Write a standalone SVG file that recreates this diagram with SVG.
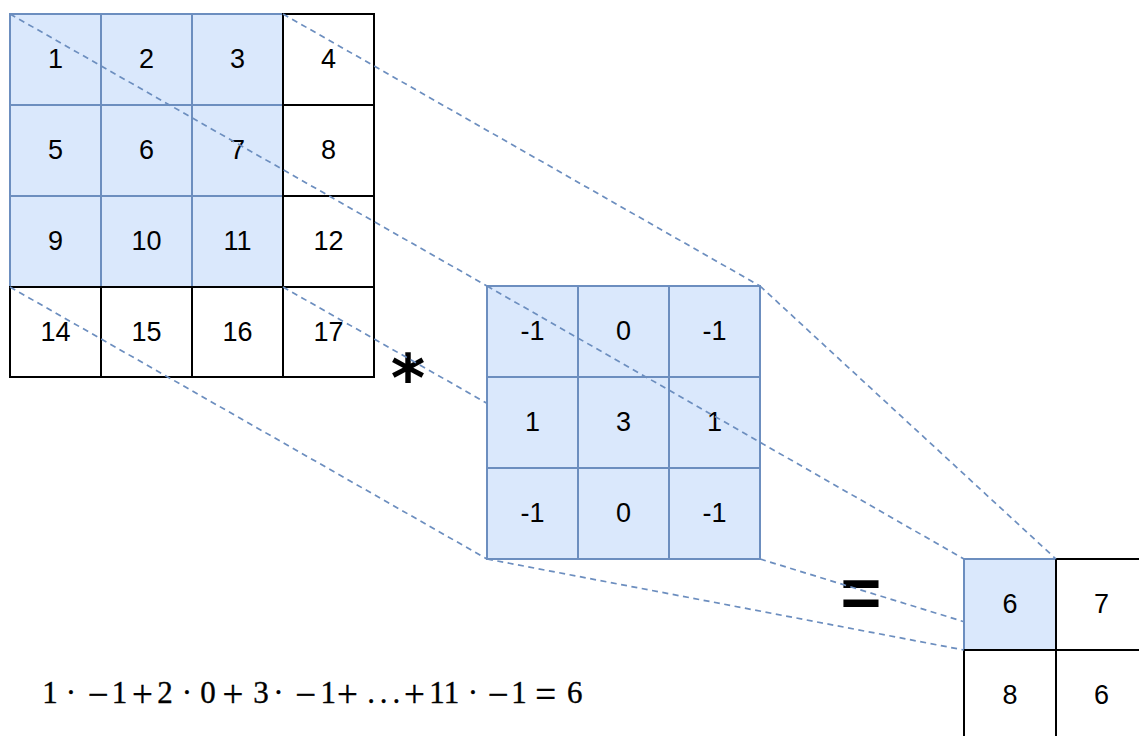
<svg xmlns="http://www.w3.org/2000/svg" width="1139" height="736" viewBox="0 0 1139 736">
<style>
.b{fill:#dae8fc;stroke:#6c8ebf;stroke-width:2}
.w{fill:#ffffff;stroke:#000000;stroke-width:2}
.t{font-family:"Liberation Sans",Arial,sans-serif;font-size:27px;fill:#000;text-anchor:middle}
.d{stroke:#6c8ebf;stroke-width:1.7;stroke-dasharray:6 4.5;fill:none}
.f{font-family:"Liberation Serif","Times New Roman",serif;font-size:31px;fill:#000;text-anchor:middle;stroke:#000;stroke-width:0.35}
.op{font-size:37px}
</style>
<rect width="1139" height="736" fill="#ffffff"/>
<g id="input">
<rect class="b" x="10" y="14" width="91" height="91"/><rect class="b" x="101" y="14" width="91" height="91"/><rect class="b" x="192" y="14" width="91" height="91"/>
<rect class="b" x="10" y="105" width="91" height="91"/><rect class="b" x="101" y="105" width="91" height="91"/><rect class="b" x="192" y="105" width="91" height="91"/>
<rect class="b" x="10" y="196" width="91" height="91"/><rect class="b" x="101" y="196" width="91" height="91"/><rect class="b" x="192" y="196" width="91" height="91"/>
<rect class="w" x="283" y="14" width="91" height="91"/><rect class="w" x="283" y="105" width="91" height="91"/><rect class="w" x="283" y="196" width="91" height="91"/>
<rect class="w" x="10" y="287" width="91" height="90"/><rect class="w" x="101" y="287" width="91" height="90"/><rect class="w" x="192" y="287" width="91" height="90"/><rect class="w" x="283" y="287" width="91" height="90"/>
<text class="t" x="55.5" y="68">1</text><text class="t" x="146.5" y="68">2</text><text class="t" x="237.5" y="68">3</text><text class="t" x="328.5" y="68">4</text>
<text class="t" x="55.5" y="159">5</text><text class="t" x="146.5" y="159">6</text><text class="t" x="237.5" y="159">7</text><text class="t" x="328.5" y="159">8</text>
<text class="t" x="55.5" y="250">9</text><text class="t" x="146.5" y="250">10</text><text class="t" x="237.5" y="250">11</text><text class="t" x="328.5" y="250">12</text>
<text class="t" x="55.5" y="341">14</text><text class="t" x="146.5" y="341">15</text><text class="t" x="237.5" y="341">16</text><text class="t" x="328.5" y="341">17</text>
</g>
<g id="kernel">
<rect class="b" x="487" y="286" width="91" height="91"/><rect class="b" x="578" y="286" width="91" height="91"/><rect class="b" x="669" y="286" width="91" height="91"/>
<rect class="b" x="487" y="377" width="91" height="91"/><rect class="b" x="578" y="377" width="91" height="91"/><rect class="b" x="669" y="377" width="91" height="91"/>
<rect class="b" x="487" y="468" width="91" height="91"/><rect class="b" x="578" y="468" width="91" height="91"/><rect class="b" x="669" y="468" width="91" height="91"/>
<text class="t" x="532.5" y="340">-1</text><text class="t" x="623.5" y="340">0</text><text class="t" x="714.5" y="340">-1</text>
<text class="t" x="532.5" y="431">1</text><text class="t" x="623.5" y="431">3</text><text class="t" x="714.5" y="431">1</text>
<text class="t" x="532.5" y="522">-1</text><text class="t" x="623.5" y="522">0</text><text class="t" x="714.5" y="522">-1</text>
</g>
<g id="output">
<rect class="b" x="964" y="559" width="92" height="91"/>
<rect class="w" x="1056" y="559" width="91" height="91"/><rect class="w" x="964" y="650" width="92" height="91"/><rect class="w" x="1056" y="650" width="91" height="91"/>
<text class="t" x="1010" y="613">6</text><text class="t" x="1101.5" y="613">7</text>
<text class="t" x="1010" y="704">8</text><text class="t" x="1101.5" y="704">6</text>
</g>
<g id="operator-star"><text x="408" y="401" font-family="'DejaVu Sans',sans-serif" font-weight="bold" font-size="66" text-anchor="middle">*</text></g>
<g id="operator-equals"><text x="861" y="617" font-family="'Liberation Sans',Arial,sans-serif" font-weight="bold" font-size="70" text-anchor="middle">=</text></g>
<g id="formula"><text class="f" y="703"><tspan x="50" y="703">1</tspan><tspan x="71" y="703">·</tspan><tspan class="op" x="98.3" y="707">−</tspan><tspan x="119.5" y="703">1</tspan><tspan class="op" x="142.5" y="707">+</tspan><tspan x="165" y="703">2</tspan><tspan x="187" y="703">·</tspan><tspan x="208" y="703">0</tspan><tspan class="op" x="233" y="707">+</tspan><tspan x="261" y="703">3</tspan><tspan x="278.5" y="703">·</tspan><tspan class="op" x="305.7" y="707">−</tspan><tspan x="328.2" y="703">1</tspan><tspan class="op" x="347.4" y="707">+</tspan><tspan x="371" y="703">.</tspan><tspan x="383.7" y="703">.</tspan><tspan x="396.4" y="703">.</tspan><tspan class="op" x="414.5" y="707">+</tspan><tspan x="444.3" y="703">11</tspan><tspan x="473" y="703">·</tspan><tspan class="op" x="498.3" y="707">−</tspan><tspan x="519" y="703">1</tspan><tspan class="op" x="545.8" y="707">=</tspan><tspan x="574.8" y="703">6</tspan></text></g>
<g id="connectors">
<line class="d" x1="10" y1="14" x2="487" y2="286"/>
<line class="d" x1="283" y1="14" x2="760" y2="286"/>
<line class="d" x1="10" y1="287" x2="487" y2="559"/>
<line class="d" x1="283" y1="287" x2="487" y2="403.3"/>
<line class="d" x1="487" y1="286" x2="964" y2="559"/>
<line class="d" x1="760" y1="286" x2="1056" y2="559"/>
<line class="d" x1="487" y1="559" x2="964" y2="650"/>
<line class="d" x1="760" y1="559" x2="964" y2="621.7"/>
</g>
</svg>
